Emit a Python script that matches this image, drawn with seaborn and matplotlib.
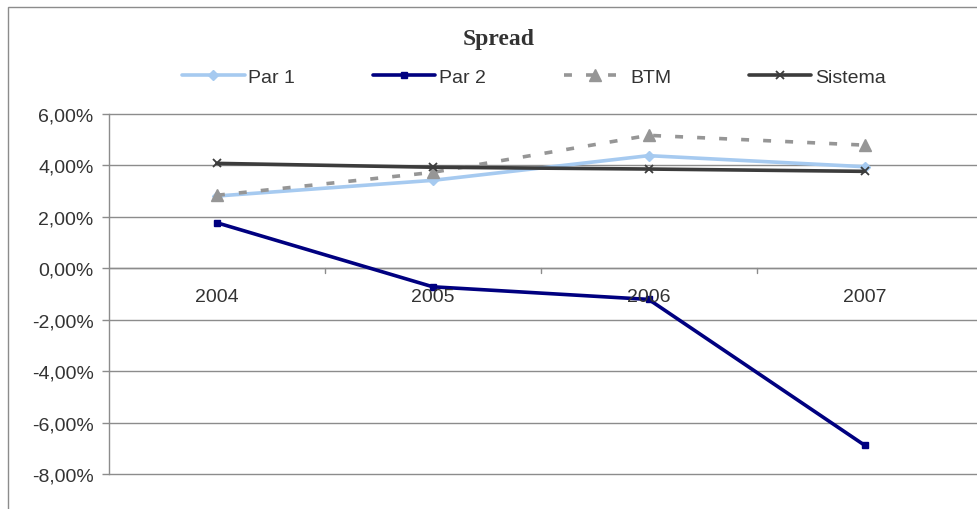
import matplotlib
matplotlib.use("Agg")
import matplotlib.pyplot as plt
import matplotlib.patches as mpatches
import seaborn as sns
import pandas as pd
import numpy as np

years = ["2004", "2005", "2006", "2007"]
par1 = [2.81, 3.42, 4.38, 3.95]
par2 = [1.77, -0.72, -1.21, -6.88]
btm = [2.84, 3.73, 5.17, 4.79]
sistema = [4.08, 3.93, 3.86, 3.77]
y_ticks = [6, 4, 2, 0, -2, -4, -6, -8]

sns.set_theme(style="white")
plt.rcParams["font.family"] = ["Liberation Sans", "DejaVu Sans"]

fig = plt.figure(figsize=(9.77, 5.10), dpi=100)
fig.patch.set_facecolor("white")

# outer chart frame
fig.add_artist(mpatches.Rectangle((8 / 977, -0.05), 1.1, 1 - 8 / 510 + 0.05,
                                  transform=fig.transFigure, fill=False,
                                  edgecolor="#8c8c8c", linewidth=1.0))

ax = fig.add_axes([109 / 977, 1 - 475 / 510, 1 - 109 / 977 + 0.002, (475 - 115) / 510])

df = pd.DataFrame({
    "x": np.tile(np.arange(len(years)), 4),
    "value": par1 + par2 + btm + sistema,
    "serie": ["Par 1"] * 4 + ["Par 2"] * 4 + ["BTM"] * 4 + ["Sistema"] * 4,
})

styles = {
    "Par 1": dict(color="#a6caf0", marker="D", markersize=5, linestyle="-"),
    "Par 2": dict(color="#000080", marker="s", markersize=5, linestyle="-"),
    "BTM": dict(color="#969696", marker="^", markersize=9, linestyle=(0, (2.2, 3.9))),
    "Sistema": dict(color="#3c3c3c", marker="x", markersize=6, linestyle="-",
                    markeredgewidth=1.3),
}

handles = []
for name in ["Par 1", "Par 2", "BTM", "Sistema"]:
    sub = df[df["serie"] == name]
    st = styles[name]
    sns.lineplot(data=sub, x="x", y="value", ax=ax, color=st["color"],
                 linewidth=2.6, linestyle=st["linestyle"], marker=st["marker"],
                 markersize=st["markersize"], markeredgecolor=st["color"],
                 markeredgewidth=st.get("markeredgewidth", 1.0),
                 label=name, legend=False, zorder=3)
    ln = ax.lines[-1]
    ln.set_dash_capstyle("butt")
    handles.append(ln)

ax.set_xlim(-0.5, 3.5 + 0.03)
ax.set_ylim(-8, 6)
ax.set_yticks(y_ticks)
ax.set_yticklabels([f"{v:.2f}%".replace(".", ",") for v in y_ticks],
                   fontsize=14, color="#333333")
ax.yaxis.grid(True, color="#8c8c8c", linewidth=1.0)
for gl in ax.get_ygridlines():
    gl.set_clip_on(False)
ax.set_axisbelow(True)
ax.set_xlabel("")
ax.set_ylabel("")

# category axis drawn at zero, with ticks between categories
ax.set_xticks([])
ax.axhline(0, color="#8c8c8c", linewidth=1.0, zorder=1)
for b in [0.5, 1.5, 2.5]:
    ax.plot([b, b], [0, -0.2], color="#8c8c8c", linewidth=1.0, zorder=1)
for i, yr in enumerate(years):
    ax.text(i, -1.1, yr, ha="center", va="center", fontsize=14, color="#333333")

for s in ["top", "right", "bottom"]:
    ax.spines[s].set_visible(False)
ax.spines["left"].set_color("#8c8c8c")
ax.spines["left"].set_linewidth(1.0)
ax.tick_params(axis="y", left=True, length=5, color="#8c8c8c", width=1.0, pad=6)

fig.text(499 / 977, 1 - 40 / 510, "Spread", ha="center", va="center",
         fontsize=17, fontweight="bold", family=["Liberation Serif", "DejaVu Serif"],
         color="#333333")

fig.legend(handles=handles, labels=["Par 1", "Par 2", "BTM", "Sistema"],
           loc="center", bbox_to_anchor=(534 / 977, 1 - 78 / 510), ncol=4,
           frameon=False, fontsize=14, handlelength=3.2, handletextpad=0.2,
           columnspacing=4.0, labelcolor="#333333")

fig.savefig("out.png", dpi=100)
